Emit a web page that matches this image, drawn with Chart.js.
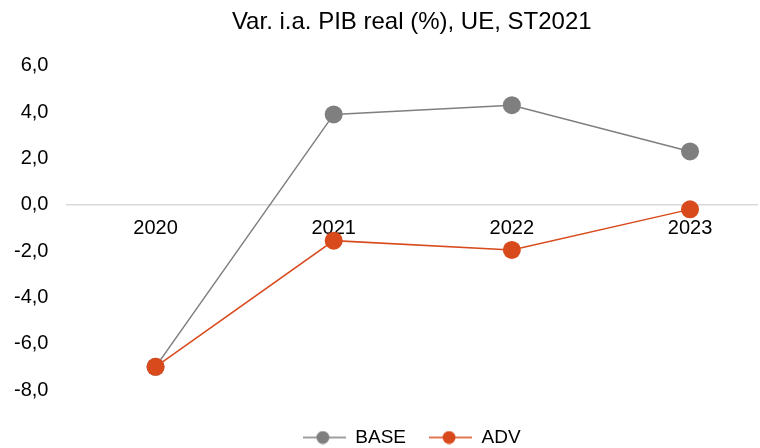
<!DOCTYPE html>
<html>
<head>
<meta charset="utf-8">
<script src="https://cdn.jsdelivr.net/npm/chart.js@4.4.0/dist/chart.umd.min.js"></script>
<style>
  html, body { margin: 0; padding: 0; background: #fff; }
  #wrap { width: 760px; height: 448px; position: relative; }
</style>
</head>
<body>
<div id="wrap"><canvas id="gdpChart"></canvas></div>
<script>
// ── Chart data ──
var years = ['2020', '2021', '2022', '2023'];
var baseValues = [-7.0, 3.9, 4.3, 2.3];
var advValues = [-7.0, -1.55, -1.95, -0.2];
var yTicks = [6, 4, 2, 0, -2, -4, -6, -8];

var GREY = '#7f7f7f';
var ORANGE = '#d84a1b';
var FONT = 'Liberation Sans';

// legend marker: short line with a dot in the middle
function legendMarker(color) {
    var c = document.createElement('canvas');
    c.width = 43; c.height = 14;
    var g = c.getContext('2d');
    g.strokeStyle = color;
    g.lineWidth = 1.5;
    g.beginPath(); g.moveTo(0, 7); g.lineTo(43, 7); g.stroke();
    g.fillStyle = color;
    g.beginPath(); g.arc(20, 7, 6.5, 0, Math.PI * 2); g.fill();
    return c;
}

function toPoints(values) {
    return values.map(function (v, i) { return { x: i, y: v }; });
}

var ctx = document.getElementById('gdpChart').getContext('2d');
new Chart(ctx, {
    type: 'line',
    data: {
        datasets: [{
            label: 'BASE',
            data: toPoints(baseValues),
            borderColor: GREY,
            backgroundColor: GREY,
            borderWidth: 1.5,
            pointRadius: 9,
            pointHoverRadius: 9,
            pointBorderWidth: 0,
            order: 1
        }, {
            label: 'ADV',
            data: toPoints(advValues),
            borderColor: ORANGE,
            backgroundColor: ORANGE,
            borderWidth: 1.5,
            pointRadius: 9,
            pointHoverRadius: 9,
            pointBorderWidth: 0,
            order: 0   // drawn on top of BASE
        }]
    },
    options: {
        responsive: true,
        maintainAspectRatio: false,
        animation: false,
        layout: { autoPadding: false, padding: { left: -4, right: 3, top: 0, bottom: -9 } },
        plugins: {
            title: {
                display: true,
                fullSize: false,
                text: 'Var. i.a. PIB real (%), UE, ST2021',
                color: '#000',
                font: { family: FONT, size: 24, weight: 'normal', lineHeight: 1.2 },
                padding: { top: 8, bottom: 29 }
            },
            legend: {
                position: 'bottom',
                fullSize: false,
                // empty title just adds space above the items
                title: { display: true, text: '', font: { size: 1, lineHeight: 1 }, padding: { top: 0, bottom: 14 } },
                labels: {
                    usePointStyle: true,
                    pointStyleWidth: 43,
                    boxHeight: 14,
                    color: '#000',
                    font: { family: FONT, size: 19 },
                    padding: 23,
                    generateLabels: function (chart) {
                        return chart.data.datasets.map(function (ds, i) {
                            return {
                                text: ds.label,
                                pointStyle: legendMarker(ds.borderColor),
                                fillStyle: ds.borderColor,
                                strokeStyle: ds.borderColor,
                                fontColor: '#000',
                                lineWidth: 0,
                                hidden: false,
                                datasetIndex: i
                            };
                        });
                    }
                }
            },
            tooltip: { enabled: false }
        },
        scales: {
            x: {
                type: 'linear',
                position: { y: 0 },
                min: -0.5,
                max: 3.376,
                afterBuildTicks: function (axis) {
                    axis.ticks = years.map(function (y, i) { return { value: i }; });
                },
                ticks: {
                    color: '#000',
                    font: { family: FONT, size: 20 },
                    padding: 12,
                    maxRotation: 0,
                    callback: function (v) { return years[v]; }
                },
                grid: { display: false, drawTicks: false },
                border: { display: true, color: '#d9d9d9', width: 1.5 }
            },
            y: {
                min: -8,
                max: 6,
                afterBuildTicks: function (axis) {
                    axis.ticks = yTicks.map(function (v) { return { value: v }; });
                },
                ticks: {
                    color: '#000',
                    font: { family: FONT, size: 20 },
                    padding: 18,
                    callback: function (v) { return v.toFixed(1).replace('.', ','); }
                },
                grid: { display: false, drawTicks: false },
                border: { display: false }
            }
        }
    }
});
</script>
</body>
</html>
